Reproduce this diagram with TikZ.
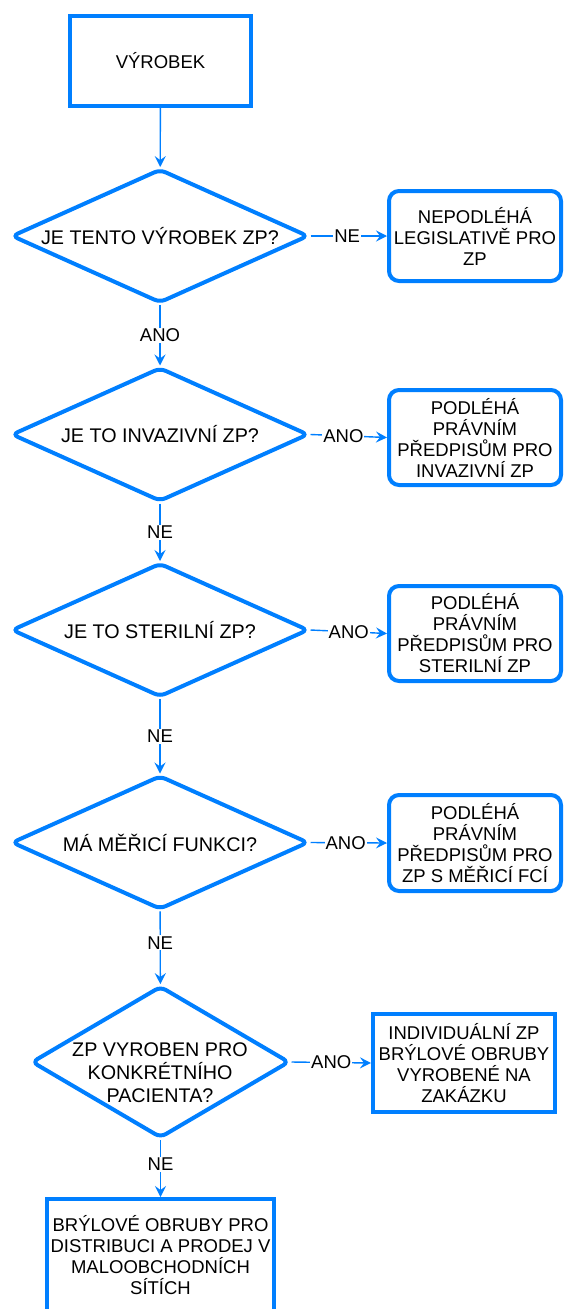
\documentclass[tikz,border=0pt]{standalone}
\usepackage{fontspec}
\setmainfont{Liberation Sans}
\usetikzlibrary{shapes.geometric,arrows.meta}
\definecolor{flowblue}{RGB}{0,127,255}
\begin{document}
\begin{tikzpicture}[x=1pt,y=-1pt,
  every node/.style={font=\fontsize{18.5}{21}\selectfont, text=black},
  stepbox/.style={draw=flowblue, line width=4pt, rectangle, align=center, inner sep=0pt},
  roundbox/.style={stepbox, rounded corners=10pt},
  decision/.style={draw=flowblue, line width=4pt, diamond, rounded corners=6pt, align=center, inner sep=0pt},
  asktext/.style={align=center, font=\fontsize{19.75}{23}\selectfont},
  link/.style={draw=flowblue, line width=1.4pt, -{Stealth[length=11pt,width=11pt,inset=4pt]}},
  tag/.style={fill=white, inner sep=1pt}]
\useasboundingbox (0,0) rectangle (563,1309);
\clip (0,0) rectangle (563,1309);

% start box
\node[stepbox, minimum width=181pt, minimum height=90pt] (start) at (160.5,61) {VÝROBEK};

% decisions down the main column (outline only; questions set on top)
\node[decision, shape aspect=2.216, minimum width=297pt, minimum height=134pt] (d1) at (160,236) {};
\node[decision, shape aspect=2.216, minimum width=297pt, minimum height=134pt] (d2) at (160,434.5) {};
\node[decision, shape aspect=2.216, minimum width=297pt, minimum height=134pt] (d3) at (160,630) {};
\node[decision, shape aspect=2.216, minimum width=297pt, minimum height=134pt] (d4) at (160,842.5) {};
\node[decision, shape aspect=1.697, minimum width=258pt, minimum height=152pt] (d5) at (160.5,1062) {};

\node[asktext] (d1t) at (160,236) {JE TENTO VÝROBEK ZP?};
\node[asktext] (d2t) at (160,434.5) {JE TO INVAZIVNÍ ZP?};
\node[asktext] (d3t) at (160,630) {JE TO STERILNÍ ZP?};
\node[asktext] (d4t) at (160,843) {MÁ MĚŘICÍ FUNKCI?};
\node[asktext] (d5t) at (160,1073) {ZP VYROBEN PRO\\KONKRÉTNÍHO\\PACIENTA?};

% outcome boxes on the right
\node[roundbox, minimum width=172pt, minimum height=90pt] (b1) at (475,236) {NEPODLÉHÁ\\LEGISLATIVĚ PRO\\ZP};
\node[roundbox, minimum width=172pt, minimum height=95pt] (b2) at (475,437.5) {PODLÉHÁ\\PRÁVNÍM\\PŘEDPISŮM PRO\\INVAZIVNÍ ZP};
\node[roundbox, minimum width=172pt, minimum height=95pt] (b3) at (475,633.5) {PODLÉHÁ\\PRÁVNÍM\\PŘEDPISŮM PRO\\STERILNÍ ZP};
\node[roundbox, minimum width=172pt, minimum height=96pt] (b4) at (475,843) {PODLÉHÁ\\PRÁVNÍM\\PŘEDPISŮM PRO\\ZP S MĚŘICÍ FCÍ};
\node[stepbox, minimum width=182pt, minimum height=98pt] (b5) at (464,1063) {INDIVIDUÁLNÍ ZP\\BRÝLOVÉ OBRUBY\\VYROBENÉ NA\\ZAKÁZKU};

% final box at the bottom
\node[stepbox, minimum width=227pt, minimum height=113pt] (b6) at (160.5,1255.5) {BRÝLOVÉ OBRUBY PRO\\DISTRIBUCI A PRODEJ V\\MALOOBCHODNÍCH\\SÍTÍCH};

% connectors
\draw[link] (start) -- (d1);
\draw[link] (d1) -- node[tag] {ANO} (d2);
\draw[link] (d2) -- node[tag] {NE} (d3);
\draw[link] (d3) -- node[tag] {NE} (d4);
\draw[link] (d4) -- node[tag, pos=0.43] {NE} (d5);
\draw[link] (d5) -- node[tag, pos=0.43] {NE} (b6);

\draw[link] (d1.east) -- node[tag, pos=0.48] {NE} (b1.west);
\draw[link] (d2.east) -- node[tag, pos=0.43] {ANO} (b2.west);
\draw[link] (d3.east) -- node[tag, pos=0.5] {ANO} (b3.west);
\draw[link] (d4.east) -- node[tag, pos=0.46] {ANO} (b4.west);
\draw[link] (d5.east) -- node[tag, pos=0.5] {ANO} (b5.west);
\end{tikzpicture}
\end{document}
